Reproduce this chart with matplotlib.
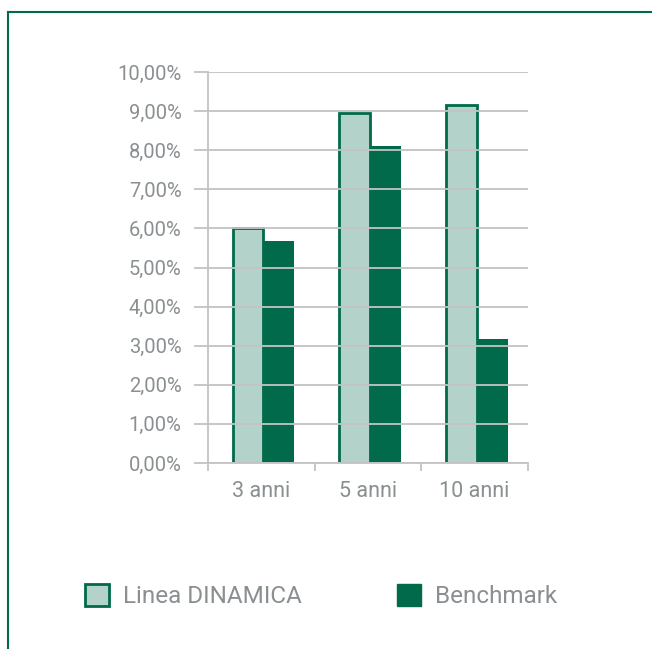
import matplotlib.pyplot as plt
from matplotlib.lines import Line2D
from matplotlib.patches import Patch
import numpy as np

categorie = ['3 anni', '5 anni', '10 anni']
linea_dinamica = [6.00, 8.95, 9.15]
benchmark = [5.68, 8.10, 3.17]
etichette_y = ['0,00%', '1,00%', '2,00%', '3,00%', '4,00%', '5,00%',
               '6,00%', '7,00%', '8,00%', '9,00%', '10,00%']

verde = '#006a4b'
verde_chiaro = '#b3d3ca'
grigio_testo = '#8a8f91'
grigio_linee = '#c3c3c3'

plt.rcParams['font.family'] = ['Roboto', 'DejaVu Sans']

fig = plt.figure(figsize=(6.52, 6.49), dpi=100)
ax = fig.add_axes([208/652, 1 - 463/649, 320/652, 391/649])

x = np.arange(len(categorie))
w = 0.29
ax.bar(x + 0.02 - w/2, linea_dinamica, w, color=verde_chiaro, edgecolor=verde, linewidth=2, zorder=2)
ax.bar(x + 0.02 + w/2, benchmark, w, color=verde, edgecolor=verde, linewidth=0, zorder=2)

ax.set_xlim(-0.5, 2.5)
ax.set_ylim(0, 10)
ax.set_yticks(range(11))
ax.set_yticklabels(etichette_y)
ax.grid(axis='y', color=grigio_linee, linewidth=1.3, zorder=3)
ax.set_axisbelow(False)

ax.set_xticks(x)
ax.set_xticklabels(categorie)
ax.set_xticks([-0.5, 0.5, 1.5, 2.5], minor=True)
ax.tick_params(axis='x', which='major', length=0, pad=13, labelsize=15.5, labelcolor=grigio_testo)
ax.tick_params(axis='x', which='minor', length=6, color=grigio_linee, width=1.3, direction='out')
ax.tick_params(axis='y', length=10, color=grigio_linee, width=1.3, pad=9,
               labelsize=14.5, labelcolor=grigio_testo)

for s in ['top', 'right']:
    ax.spines[s].set_visible(False)
ax.spines['left'].set_color(grigio_linee)
ax.spines['left'].set_linewidth(1.3)
ax.spines['bottom'].set_color(grigio_linee)
ax.spines['bottom'].set_linewidth(1.3)

# cornice
fig.add_artist(Line2D([8/652, 1], [1 - 12/649, 1 - 12/649], color=verde, linewidth=1.5))
fig.add_artist(Line2D([8/652, 8/652], [0, 1 - 12/649], color=verde, linewidth=1.5))

handles = [Patch(facecolor=verde_chiaro, edgecolor=verde, linewidth=2, label='Linea DINAMICA'),
           Patch(facecolor=verde, edgecolor=verde, label='Benchmark')]
leg = fig.legend(handles=handles, loc='center left', bbox_to_anchor=(85/652, 1 - 596/649),
                 ncol=2, frameon=False, fontsize=17.5, handlelength=1.0, handleheight=1.0,
                 handletextpad=0.57, columnspacing=3.9, borderpad=0, borderaxespad=0)
for t in leg.get_texts():
    t.set_color(grigio_testo)

fig.savefig('out.png', dpi=100)
